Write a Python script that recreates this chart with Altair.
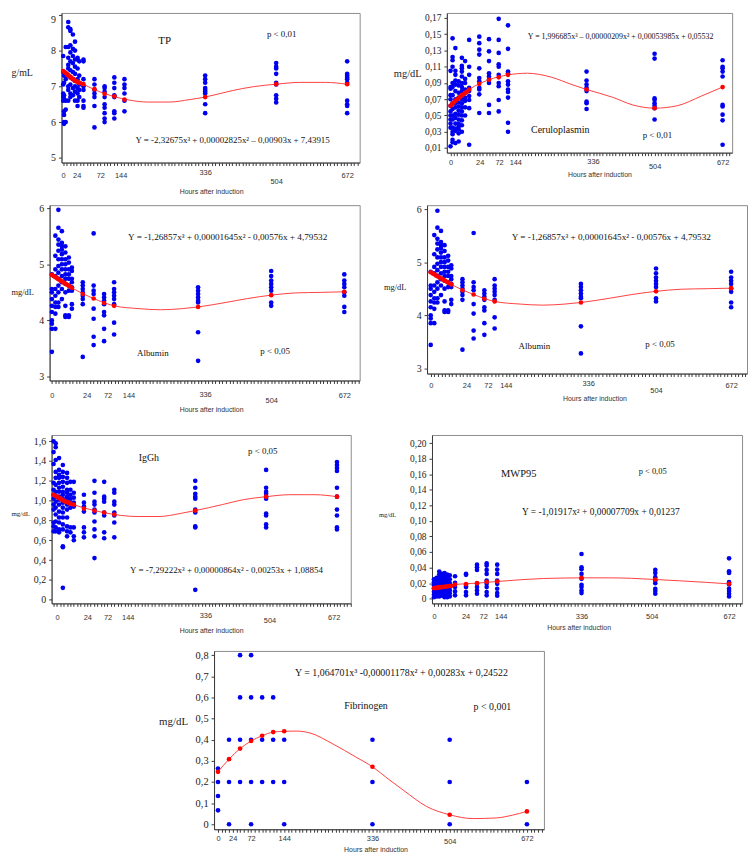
import altair as alt
import pandas as pd

SERIF = "Liberation Serif"
SANS = "Liberation Sans"
BLUE = "#0000f0"
RED = "#ff0000"
LINE_RED = "#ff4040"
AXIS_GREY = "#3a3a3a"
FRAME_GREY = "#8c8c8c"

X_TICK_STEP = 8
X_TICK_LABELS = ["0", "24", "72", "144", "336", "504", "672"]
X_TITLE = "Hours after induction"

# ---------------- TP ----------------
tp_hours = [0, 2, 6, 12, 17, 23, 28, 34, 38, 48, 74, 98, 121, 145, 336, 504, 672]
tp_values = [
    [7.85, 7.4, 7.05, 6.8, 6.7, 6.6],
    [6.0, 5.95, 6.3, 6.2, 6.65, 6.75, 7.1, 7.3],
    [8.1, 7.2, 6.6, 6.35, 6.0],
    [8.8, 8.65, 8.1, 7.8, 7.6, 7.5, 7.3, 7.0, 6.9, 6.6],
    [8.6, 8.55, 8.15, 7.95, 7.7, 7.45, 7.25, 7.05, 6.8, 6.7],
    [8.45, 8.05, 7.85, 7.65, 7.4, 7.2, 6.95, 6.75],
    [8.25, 8.0, 7.75, 7.55, 7.35, 7.15, 7.0, 6.85, 6.6],
    [7.8, 7.75, 7.5, 7.2, 6.95, 6.8, 6.6, 6.45],
    [7.7, 7.3, 7.05, 6.9, 6.7],
    [7.75, 7.7, 7.2, 7.0, 6.9, 6.6, 6.45, 6.4],
    [7.2, 7.05, 6.9, 6.8, 6.7, 6.45, 5.85],
    [7.0, 6.95, 6.85, 6.7, 6.5, 6.4, 6.25, 6.1, 6.0],
    [7.25, 7.1, 6.95, 6.75, 6.7, 6.3, 6.25, 6.1],
    [7.2, 7.05, 6.95, 6.8, 6.6, 6.3],
    [7.3, 7.2, 7.1, 6.95, 6.9, 6.85, 6.8, 6.5, 6.25],
    [7.65, 7.55, 7.5, 7.35, 7.1, 7.05, 6.75, 6.65, 6.55],
    [7.7, 7.35, 7.3, 7.25, 7.2, 7.1, 6.6, 6.5, 6.45, 6.25],
]
tp_fit_hours = [0, 3, 6, 9, 12, 15, 18, 21, 24, 27, 30, 33, 36, 40, 48, 74, 98, 121, 145, 336, 504, 672]
tp_fit_values = [7.43, 7.4, 7.37, 7.34, 7.31, 7.28, 7.25, 7.22, 7.2, 7.17, 7.15, 7.13, 7.11, 7.09,
                 7.06, 6.92, 6.79, 6.72, 6.63, 6.7, 7.06, 7.06]
tp_curve_hours = [0, 48, 100, 150, 200, 250, 300, 336, 400, 450, 504, 560, 620, 672]
tp_curve_values = [7.43, 7.06, 6.79, 6.63, 6.56, 6.56, 6.63, 6.70, 6.88, 6.99, 7.06, 7.11, 7.11, 7.06]
tp_texts = ["TP", "p < 0,01", "Y = -2,32675x³ + 0,00002825x² – 0,00903x + 7,43915"]
tp_text_h = [240, 517, 401]
tp_text_v = [8.27, 8.47, 5.49]
tp_text_fs = [11, 9, 9]

# ---------------- Ceruloplasmin ----------------
cp_hours = [0, 5, 12, 20, 28, 36, 46, 71, 95, 119, 142, 336, 504, 672]
cp_values = [
    [0.105, 0.085, 0.083, 0.075, 0.07, 0.062, 0.055, 0.05, 0.045, 0.04, 0.035, 0.012],
    [0.145, 0.122, 0.118, 0.11, 0.09, 0.085, 0.075, 0.065, 0.058, 0.05, 0.045, 0.035, 0.03, 0.027, 0.02, 0.017],
    [0.133, 0.105, 0.1, 0.093, 0.088, 0.08, 0.07, 0.065, 0.06, 0.052, 0.047, 0.04, 0.034, 0.031, 0.016],
    [0.092, 0.087, 0.078, 0.072, 0.066, 0.061, 0.056, 0.051, 0.045, 0.04, 0.036, 0.033, 0.028, 0.018],
    [0.121, 0.111, 0.108, 0.104, 0.098, 0.09, 0.085, 0.08, 0.076, 0.07, 0.065, 0.06, 0.055, 0.05, 0.044, 0.038, 0.03],
    [0.117, 0.095, 0.09, 0.082, 0.078, 0.072, 0.068, 0.06, 0.05],
    [0.143, 0.11, 0.1, 0.084, 0.08, 0.074, 0.069, 0.059, 0.014],
    [0.147, 0.139, 0.131, 0.125, 0.108, 0.096, 0.092, 0.084, 0.082, 0.076, 0.053],
    [0.144, 0.129, 0.117, 0.102, 0.098, 0.094, 0.09, 0.063, 0.053],
    [0.169, 0.143, 0.127, 0.113, 0.11, 0.1, 0.09, 0.086, 0.069, 0.055],
    [0.161, 0.132, 0.104, 0.102, 0.092, 0.088, 0.082, 0.079, 0.072, 0.041, 0.03],
    [0.104, 0.093, 0.088, 0.084, 0.08, 0.067, 0.065, 0.058],
    [0.126, 0.12, 0.071, 0.069, 0.065, 0.062, 0.059, 0.045],
    [0.118, 0.11, 0.108, 0.104, 0.098, 0.063, 0.061, 0.051, 0.044, 0.014],
]
cp_fit_hours = [0, 4, 8, 12, 16, 20, 24, 28, 32, 36, 40, 46, 71, 95, 119, 142, 336, 504, 672]
cp_fit_values = [0.062, 0.064, 0.066, 0.068, 0.07, 0.071, 0.073, 0.075, 0.076, 0.078, 0.079,
                 0.082, 0.089, 0.094, 0.097, 0.1, 0.082, 0.059, 0.085]
cp_curve_hours = [0, 46, 95, 142, 190, 250, 300, 336, 400, 450, 504, 560, 620, 672]
cp_curve_values = [0.062, 0.082, 0.094, 0.1, 0.102, 0.097, 0.088, 0.082, 0.0725, 0.063, 0.059, 0.062, 0.074, 0.085]
cp_texts = ["Y = 1,996685x³ – 0,00000209x² + 0,00053985x + 0,05532", "Ceruloplasmin", "p < 0,01"]
cp_text_h = [420, 271, 511]
cp_text_v = [0.1466, 0.0316, 0.0265]
cp_text_fs = [8, 10, 9]

# ---------------- Albumin ----------------
al_hours = [0, 8, 15, 23, 31, 39, 46, 71, 96, 120, 143, 336, 504, 672]
al_values = [
    [4.82, 4.56, 4.5, 4.38, 4.26, 4.15, 4.0, 3.94, 3.85, 3.44],
    [5.51, 5.15, 4.91, 4.79, 4.56, 4.44, 4.32, 4.24, 4.12, 3.85],
    [5.97, 5.65, 5.44, 5.35, 5.24, 5.09, 4.97, 4.85, 4.74, 4.62, 4.5, 4.32, 4.24],
    [5.59, 5.38, 5.32, 5.26, 5.18, 5.09, 5.0, 4.91, 4.79, 4.68, 4.56, 4.38],
    [5.32, 5.21, 5.09, 5.0, 4.91, 4.82, 4.74, 4.65, 4.5, 4.26, 4.09, 4.06],
    [5.12, 5.03, 4.91, 4.82, 4.74, 4.62, 4.53, 4.09, 4.06],
    [4.94, 4.88, 4.74, 4.68, 4.59, 4.53, 4.29, 4.21],
    [4.68, 4.62, 4.56, 4.5, 4.44, 4.38, 4.29, 3.35],
    [5.55, 4.62, 4.53, 4.47, 4.21, 4.03, 3.71, 3.56],
    [4.47, 4.41, 4.35, 4.29, 4.15, 4.09, 3.85, 3.63],
    [4.68, 4.56, 4.5, 4.44, 4.38, 4.29, 3.96, 3.75],
    [4.59, 4.53, 4.47, 4.41, 4.35, 4.32, 3.79, 3.28],
    [4.88, 4.79, 4.71, 4.65, 4.59, 4.53, 4.32, 4.26],
    [4.82, 4.71, 4.65, 4.59, 4.5, 4.44, 4.24, 4.15],
]
al_fit_hours = [0, 4, 8, 12, 16, 20, 24, 28, 32, 36, 40, 46, 71, 96, 120, 143, 336, 504, 672]
al_fit_values = [4.81, 4.79, 4.77, 4.75, 4.73, 4.71, 4.69, 4.67, 4.65, 4.63, 4.61, 4.58,
                 4.47, 4.39, 4.31, 4.26, 4.24, 4.45, 4.51]
al_curve_hours = [0, 46, 96, 143, 200, 250, 300, 336, 400, 450, 504, 560, 620, 672]
al_curve_values = [4.81, 4.58, 4.39, 4.26, 4.21, 4.19, 4.21, 4.24, 4.32, 4.39, 4.45, 4.49, 4.5, 4.51]
al_texts = ["Y = -1,26857x³ + 0,00001645x² - 0,00576x + 4,79532", "Albumin", "p < 0,05"]
al_text_h = [404, 232, 513]
al_text_v = [5.48, 3.42, 3.46]
al_text_fs = [9.3, 9, 9]

# ---------------- IgGh ----------------
ig_hours = [0, 5, 13, 22, 32, 40, 48, 72, 97, 120, 144, 336, 504, 672]
ig_values = [
    [1.6, 1.49, 1.37, 1.18, 1.11, 1.06, 1.02, 0.96, 0.91, 0.78, 0.74, 0.69],
    [1.58, 1.54, 1.41, 1.29, 1.23, 1.16, 1.09, 1.04, 0.99, 0.93, 0.86, 0.79, 0.73, 0.69],
    [1.43, 1.31, 1.26, 1.23, 1.18, 1.13, 1.09, 1.04, 1.01, 0.96, 0.89, 0.83, 0.78, 0.71, 0.68],
    [1.36, 1.29, 1.24, 1.19, 1.14, 1.09, 1.06, 1.02, 0.98, 0.93, 0.88, 0.83, 0.76, 0.71, 0.54, 0.53, 0.12],
    [1.28, 1.23, 1.18, 1.11, 1.08, 1.04, 1.01, 0.96, 0.91, 0.83, 0.74, 0.69, 0.64],
    [1.19, 1.11, 1.06, 1.02, 0.98, 0.93, 0.73, 0.68],
    [1.19, 1.08, 1.03, 0.98, 0.94, 0.73, 0.64, 0.6],
    [1.06, 0.98, 0.94, 0.89, 0.73, 0.68, 0.63],
    [1.2, 1.08, 0.99, 0.96, 0.91, 0.88, 0.79, 0.71, 0.64, 0.42],
    [1.19, 1.04, 1.02, 0.99, 0.88, 0.85, 0.68, 0.62],
    [1.11, 1.08, 0.99, 0.96, 0.88, 0.85, 0.78, 0.63],
    [1.2, 1.13, 1.07, 1.04, 1.02, 0.91, 0.88, 0.74, 0.73, 0.1],
    [1.31, 1.13, 1.09, 1.07, 1.04, 1.02, 0.87, 0.85, 0.76, 0.73],
    [1.39, 1.36, 1.33, 1.3, 1.13, 1.04, 0.91, 0.85, 0.73, 0.71],
]
ig_fit_hours = [0, 4, 8, 12, 16, 20, 24, 28, 32, 36, 40, 48, 72, 97, 120, 144, 336, 504, 672]
ig_fit_values = [1.06, 1.05, 1.04, 1.03, 1.02, 1.01, 1.0, 0.99, 0.985, 0.98, 0.97, 0.96,
                 0.92, 0.9, 0.88, 0.86, 0.9, 1.04, 1.04]
ig_curve_hours = [0, 48, 97, 144, 200, 250, 300, 336, 400, 450, 504, 560, 620, 672]
ig_curve_values = [1.06, 0.96, 0.9, 0.86, 0.84, 0.84, 0.87, 0.9, 0.96, 1.01, 1.04, 1.06, 1.06, 1.04]
ig_texts = ["IgGh", "p < 0,05", "Y = -7,29222x³ + 0,00000864x² - 0,00253x + 1,08854"]
ig_text_h = [226, 496, 410]
ig_text_v = [1.433, 1.5, 0.3]
ig_text_fs = [10, 9, 9]

# ---------------- MWP95 ----------------
mw_hours = [0, 6, 12, 18, 24, 30, 36, 48, 73, 98, 120, 144, 336, 504, 672]
mw_values = [
    [0.025, 0.021, 0.017, 0.013, 0.009, 0.005, 0.002],
    [0.027, 0.023, 0.019, 0.015, 0.011, 0.007, 0.003],
    [0.035, 0.031, 0.027, 0.023, 0.019, 0.015, 0.011, 0.007, 0.003],
    [0.032, 0.028, 0.024, 0.02, 0.016, 0.012, 0.008, 0.004],
    [0.033, 0.029, 0.025, 0.021, 0.017, 0.013, 0.009, 0.005, 0.002],
    [0.031, 0.027, 0.022, 0.018, 0.014, 0.01, 0.006, 0.002],
    [0.03, 0.025, 0.02, 0.015, 0.011, 0.007, 0.003],
    [0.0289, 0.0204, 0.0149, 0.0094, 0.0043],
    [0.0319, 0.0307, 0.0162, 0.0149, 0.0085, 0.0043],
    [0.0438, 0.0404, 0.037, 0.0191, 0.0149, 0.0106, 0.0064],
    [0.0455, 0.0426, 0.037, 0.0319, 0.0234, 0.0191, 0.0149, 0.0085, 0.0043],
    [0.0438, 0.0374, 0.0319, 0.0234, 0.0191, 0.0128, 0.0072, 0.0038],
    [0.0574, 0.0404, 0.0379, 0.0319, 0.0255, 0.0179, 0.0149, 0.0106, 0.0072],
    [0.037, 0.0332, 0.0277, 0.0234, 0.02, 0.0128, 0.0098, 0.0064],
    [0.0519, 0.0353, 0.0332, 0.0213, 0.0183, 0.0128, 0.0098, 0.0064, 0.003],
]
mw_fit_hours = [0, 4, 8, 12, 16, 20, 24, 28, 32, 36, 40, 48, 73, 98, 120, 144, 336, 504, 672]
mw_fit_values = [0.0136, 0.0139, 0.0142, 0.0145, 0.0148, 0.0151, 0.0154, 0.0157, 0.016, 0.0163, 0.0167,
                 0.0183, 0.0187, 0.02, 0.0217, 0.0221, 0.0268, 0.0247, 0.0191]
mw_curve_hours = [0, 48, 98, 144, 200, 250, 300, 336, 400, 450, 504, 560, 620, 672]
mw_curve_values = [0.0136, 0.0183, 0.02, 0.0221, 0.0245, 0.026, 0.0266, 0.0268, 0.0268, 0.0262, 0.0247, 0.023, 0.021, 0.0191]
mw_texts = ["MWP95", "p < 0,05", "Y = -1,01917x² + 0,00007709x + 0,01237"]
mw_text_h = [193, 498, 380]
mw_text_v = [0.1596, 0.1647, 0.1115]
mw_text_fs = [10.5, 8.5, 9.5]

# ---------------- Fibrinogen ----------------
fb_hours = [0, 24, 48, 72, 96, 120, 144, 336, 504, 672]
fb_values = [
    [0.264, 0.2, 0.134, 0.066],
    [0.4, 0.2, 0.0],
    [0.8, 0.6, 0.4, 0.2],
    [0.8, 0.6, 0.4, 0.2, 0.0],
    [0.6, 0.4, 0.2],
    [0.6, 0.4, 0.2],
    [0.4, 0.2, 0.0],
    [0.4, 0.2, 0.0],
    [0.4, 0.2, 0.0],
    [0.2, 0.0],
]
fb_fit_hours = [0, 24, 48, 72, 96, 120, 144, 336, 504, 672]
fb_fit_values = [0.248, 0.308, 0.358, 0.394, 0.419, 0.436, 0.44, 0.272, 0.045, 0.061]
fb_curve_hours = [0, 24, 48, 72, 96, 120, 144, 170, 200, 250, 300, 336, 370, 404, 454, 504, 555, 605, 640, 672]
fb_curve_values = [0.248, 0.308, 0.358, 0.394, 0.419, 0.436, 0.44, 0.441, 0.432, 0.38, 0.318, 0.272,
                   0.215, 0.16, 0.084, 0.045, 0.027, 0.03, 0.043, 0.061]
fb_texts = ["Y = 1,064701x³ -0,00001178x² + 0,00283x + 0,24522", "Fibrinogen", "p < 0,001"]
fb_text_h = [399, 322, 597]
fb_text_v = [0.717, 0.561, 0.553]
fb_text_fs = [10, 10, 10]


def points_frame(hours, values):
    return pd.DataFrame([{"h": h, "v": v} for h, vs in zip(hours, values) for v in vs])


def line_frame(hours, values):
    return pd.DataFrame({"h": hours, "v": values})


def text_frame(texts, hs, vs, fss):
    return pd.DataFrame({"t": texts, "h": hs, "v": vs, "fs": fss})


def make_panel(c):
    W, H = c["size"]
    lo, hi = c["xdom"]
    step = X_TICK_STEP
    snapped = [int(round(p / step) * step) for p in c["xlabel_pos"]]
    ticks = sorted(set([t for t in range(0, 720, step) if lo <= t <= hi] + [s for s in snapped if lo <= s <= hi]))
    expr = "''"
    for pos, txt in reversed(list(zip(snapped, X_TICK_LABELS))):
        expr = f"datum.value == {pos} ? '{txt}' : ({expr})"
    pad_default, pad_336, pad_504 = c["xpad"]
    x_axis = alt.Axis(
        values=ticks, labelExpr=expr, labelFont=SANS, labelFontSize=7.5, labelColor="#333",
        labelPadding={"condition": [
            {"test": f"datum.value == {snapped[4]}", "value": pad_336},
            {"test": f"datum.value == {snapped[5]}", "value": pad_504}],
            "value": pad_default},
        labelOverlap=False, labelBound=False, labelFlush=False, tickSize=3,
        title=X_TITLE, titleFont=SANS, titleFontSize=7, titleFontWeight="normal", titleColor="#333",
        titleX=c["xtitle"][0], titleY=c["xtitle"][1], titleAlign="center", titleBaseline="middle",
        titleAngle=0, domainColor=AXIS_GREY, tickColor=AXIS_GREY, grid=False)
    fmt = c["yfmt"]
    y_axis = alt.Axis(
        values=c["yticks"],
        labelExpr=f"datum.value == 0 ? '0' : replace(format(datum.value, '{fmt}'), '.', ',')",
        labelFont=SERIF, labelFontSize=c["ylabfs"], labelColor="#222", labelPadding=3, tickSize=3,
        labelOverlap=False, labelFlush=c.get("yflush", False), labelBound=False,
        title=c["ytitle"], titleFont=SERIF, titleFontSize=c["ytfs"], titleFontWeight="normal",
        titleColor="#222", titleAngle=0, titleAlign="left", titleBaseline="middle",
        titleX=c["ytitle_xy"][0], titleY=c["ytitle_xy"][1],
        domainColor=AXIS_GREY, tickColor=AXIS_GREY, grid=False)
    X = alt.X("h:Q", scale=alt.Scale(domain=[lo, hi], nice=False, zero=False), axis=x_axis)
    Y = alt.Y("v:Q", scale=alt.Scale(domain=c["ydom"], nice=False, zero=False), axis=y_axis)
    pts = alt.Chart(c["points"]).mark_circle(size=22, color=BLUE, opacity=1).encode(x=X, y=Y)
    curve = alt.Chart(c["curve"]).mark_line(color=LINE_RED, strokeWidth=1, interpolate="monotone").encode(x=X, y=Y)
    fit = alt.Chart(c["fit"]).mark_circle(size=22, color=RED, opacity=1).encode(x=X, y=Y)
    txt = alt.Chart(c["texts"]).mark_text(font=SERIF, color="#111", align="center", baseline="middle").encode(
        x=X, y=Y, text="t:N", size=alt.Size("fs:Q", scale=None, legend=None))
    return alt.layer(pts, curve, fit, txt).properties(width=W, height=H)


def spacer(w, h):
    return alt.Chart(pd.DataFrame({"a": [0]})).mark_point(opacity=0, size=1).encode(
        x=alt.value(1), y=alt.value(1)).properties(
        width=w, height=h,
        view=alt.ViewBackground(strokeWidth=0, strokeOpacity=0, fillOpacity=0))


albumin_common = dict(
    points=points_frame(al_hours, al_values), fit=line_frame(al_fit_hours, al_fit_values),
    curve=line_frame(al_curve_hours, al_curve_values),
    texts=text_frame(al_texts, al_text_h, al_text_v, al_text_fs),
    yticks=[3, 4, 5, 6], yfmt=".0f", ylabfs=10, ytitle="mg/dL", ytfs=8.5)

p1 = make_panel(dict(
    size=(301, 151), xdom=[-4, 701.6], ydom=[4.867, 9.053],
    points=points_frame(tp_hours, tp_values), fit=line_frame(tp_fit_hours, tp_fit_values),
    curve=line_frame(tp_curve_hours, tp_curve_values),
    texts=text_frame(tp_texts, tp_text_h, tp_text_v, tp_text_fs),
    yticks=[5, 6, 7, 8, 9], yfmt=".0f", ylabfs=10, yflush=3, ytitle="g/mL", ytfs=10, ytitle_xy=(-51, 60),
    xlabel_pos=[0, 33, 85, 134, 336, 502, 673], xpad=(6, 3, 12), xtitle=(151, 29)))

p2 = make_panel(dict(
    size=(288, 141), xdom=[-9.1, 695.6], ydom=[0.00425, 0.1762],
    points=points_frame(cp_hours, cp_values), fit=line_frame(cp_fit_hours, cp_fit_values),
    curve=line_frame(cp_curve_hours, cp_curve_values),
    texts=text_frame(cp_texts, cp_text_h, cp_text_v, cp_text_fs),
    yticks=[round(0.01 + 0.02 * k, 2) for k in range(9)], yfmt=".2f", ylabfs=9.5,
    ytitle="mg/dL", ytfs=10.5, ytitle_xy=(-54, 61),
    xlabel_pos=[0, 72, 118, 162, 356, 502, 671], xpad=(3, 2, 7), xtitle=(154, 22)))

p3 = make_panel(dict(
    size=(313, 177), xdom=[-5.2, 707.3], ydom=[2.93, 6.053], ytitle_xy=(-39, 87),
    xlabel_pos=[0, 79, 127, 172, 352, 502, 673], xpad=(8, 7, 13), xtitle=(163, 29), **albumin_common))

p4 = make_panel(dict(
    size=(323, 170), xdom=[-8.2, 707.5], ydom=[2.9, 6.075], ytitle_xy=(-44, 82),
    xlabel_pos=[0, 77, 125, 171, 356, 504, 673], xpad=(5, 3, 10), xtitle=(169, 25), **albumin_common))

p5 = make_panel(dict(
    size=(302, 170), xdom=[-4.7, 704.7], ydom=[-0.037, 1.663],
    points=points_frame(ig_hours, ig_values), fit=line_frame(ig_fit_hours, ig_fit_values),
    curve=line_frame(ig_curve_hours, ig_curve_values),
    texts=text_frame(ig_texts, ig_text_h, ig_text_v, ig_text_fs),
    yticks=[round(0.2 * k, 1) for k in range(9)], yfmt=".1f", ylabfs=10,
    ytitle="mg/dL", ytfs=7, ytitle_xy=(-41, 79),
    xlabel_pos=[5, 83, 131, 177, 357, 510, 666], xpad=(7, 5, 10), xtitle=(161, 27)))

p6 = make_panel(dict(
    size=(313, 170), xdom=[-4.5, 701.6], ydom=[-0.006, 0.2104],
    points=points_frame(mw_hours, mw_values), fit=line_frame(mw_fit_hours, mw_fit_values),
    curve=line_frame(mw_curve_hours, mw_curve_values),
    texts=text_frame(mw_texts, mw_text_h, mw_text_v, mw_text_fs),
    yticks=[round(0.02 * k, 2) for k in range(11)], yfmt=".2f", ylabfs=9.5,
    ytitle="mg/dL", ytfs=6.5, ytitle_xy=(-54, 80),
    xlabel_pos=[0, 69, 113, 154, 338, 500, 668], xpad=(6, 6, 6), xtitle=(148, 24)))

p7 = make_panel(dict(
    size=(333, 180), xdom=[-8.6, 709], ydom=[-0.0234, 0.82],
    points=points_frame(fb_hours, fb_values), fit=line_frame(fb_fit_hours, fb_fit_values),
    curve=line_frame(fb_curve_hours, fb_curve_values),
    texts=text_frame(fb_texts, fb_text_h, fb_text_v, fb_text_fs),
    yticks=[round(0.1 * k, 1) for k in range(9)], yfmt=".1f", ylabfs=10.5,
    ytitle="mg/dL", ytfs=11, ytitle_xy=(-56, 71),
    xlabel_pos=[0, 28, 71, 144, 336, 504, 674], xpad=(2, 2, 5), xtitle=(163, 20)))

# each row: a thin leading spacer (sets row pitch), then the panels laid flush
row1 = alt.hconcat(spacer(2, 191), alt.hconcat(p1, p2, spacing=88, bounds="flush"), spacing=0)
row2 = alt.hconcat(spacer(2, 231), alt.hconcat(p3, p4, spacing=68, bounds="flush"), spacing=0)
row3 = alt.hconcat(spacer(2, 216), alt.hconcat(p5, p6, spacing=82, bounds="flush"), spacing=0)
row4 = alt.hconcat(spacer(151, 2), p7, spacing=0)

chart = alt.vconcat(row1, row2, row3, row4, spacing=0).properties(
    padding={"left": 0, "top": 0, "right": 0, "bottom": 0}, background="white"
).configure_view(stroke=FRAME_GREY, strokeWidth=1)

chart.save("out.html", embed_options={"renderer": "svg", "actions": False})
